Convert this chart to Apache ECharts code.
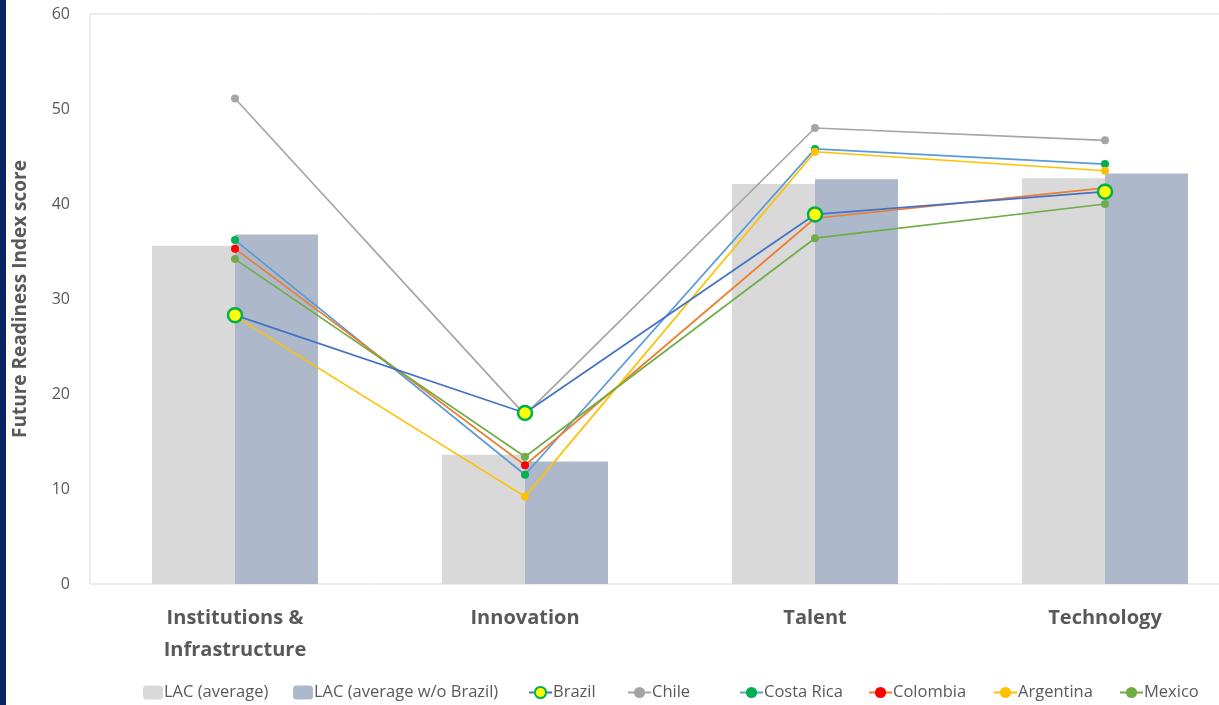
<!DOCTYPE html>
<html lang="en">
<head>
    <meta charset="UTF-8">
    <title>Future Readiness Index</title>
    <script src="https://cdn.jsdelivr.net/npm/echarts@6/dist/echarts.min.js"></script>
    <style>
        html, body { margin: 0; padding: 0; background: #fff; }
        #chart { width: 1219px; height: 705px; }
    </style>
</head>
<body>
<div id="chart"></div>
<script>
    // data
    var categories = ['Institutions &\nInfrastructure', 'Innovation', 'Talent', 'Technology'];
    var lacAvg = [35.6, 13.6, 42.1, 42.7];
    var lacNoBrazil = [36.8, 12.9, 42.6, 43.2];
    var brazil = [28.3, 18.0, 38.9, 41.3];
    var chile = [51.1, 17.8, 48.0, 46.7];
    var costaRica = [36.2, 11.5, 45.8, 44.2];
    var colombia = [35.3, 12.5, 38.5, 41.7];
    var argentina = [28.2, 9.2, 45.5, 43.5];
    var mexico = [34.2, 13.4, 36.4, 40.0];
    var yTicks = [0, 10, 20, 30, 40, 50, 60];
    var legendNames = ['LAC (average)', 'LAC (average w/o Brazil)', 'Brazil', 'Chile', 'Costa Rica', 'Colombia', 'Argentina', 'Mexico'];

    var font = '"Open Sans", "Noto Sans", sans-serif';

    function lineSeries(name, data, lineColor, dotColor) {
        return {
            name: name,
            type: 'line',
            data: data,
            symbol: 'circle',
            symbolSize: 8,
            lineStyle: {color: lineColor, width: 1.7},
            itemStyle: {color: dotColor, borderWidth: 0},
            z: 5
        };
    }

    // one legend per item so the spacing follows the original
    var legendLeft = [143, 293, 528, 627, 739, 868, 993, 1119];
    var legends = [];
    for (var i = 0; i < legendNames.length; i++) {
        var isBar = i < 2;
        legends.push({
            data: [legendNames[i]],
            left: legendLeft[i],
            top: 684,
            padding: 0,
            itemWidth: isBar ? 20 : 23,
            itemHeight: 14,
            textStyle: {color: '#595959', fontSize: 16.5, fontFamily: font, padding: [0, 0, 0, -4]}
        });
    }

    var chart = echarts.init(document.getElementById('chart'));
    var option = {
        animation: false,
        backgroundColor: '#fff',
        graphic: [{
            type: 'rect',
            left: 0, top: 0,
            shape: {width: 6, height: 705},
            style: {fill: '#0b2264'}
        }],
        grid: {
            left: 90, top: 14, width: 1160, height: 570,
            show: true, borderColor: '#d9d9d9', borderWidth: 1,
            outerBoundsMode: 'none',
            containLabel: false
        },
        legend: legends,
        xAxis: {
            type: 'category',
            data: categories,
            axisLine: {show: false},
            axisTick: {show: false},
            axisLabel: {
                color: '#595959', fontSize: 20, fontWeight: 'bold', fontFamily: font,
                lineHeight: 32, margin: 18
            }
        },
        yAxis: {
            type: 'value',
            min: yTicks[0],
            max: yTicks[yTicks.length - 1],
            interval: 10,
            name: 'Future Readiness Index score',
            nameLocation: 'middle',
            nameGap: 60,
            nameTextStyle: {color: '#595959', fontSize: 19, fontWeight: 'bold', fontFamily: font},
            axisLine: {show: false},
            axisTick: {show: false},
            splitLine: {show: false},
            axisLabel: {color: '#595959', fontSize: 16, fontFamily: font, margin: 20}
        },
        series: [
            {
                name: 'LAC (average)',
                type: 'bar',
                data: lacAvg,
                barWidth: 83,
                barGap: '0%',
                itemStyle: {color: '#d9d9d9'}
            },
            {
                name: 'LAC (average w/o Brazil)',
                type: 'bar',
                data: lacNoBrazil,
                barWidth: 83,
                barGap: '0%',
                itemStyle: {color: '#adb9ca'}
            },
            {
                name: 'Brazil',
                type: 'line',
                data: brazil,
                symbol: 'circle',
                symbolSize: 14,
                lineStyle: {color: '#4472c4', width: 1.7},
                itemStyle: {color: '#ffff00', borderColor: '#00b050', borderWidth: 2.5},
                z: 6
            },
            lineSeries('Chile', chile, '#a5a5a5', '#a5a5a5'),
            lineSeries('Costa Rica', costaRica, '#5b9bd5', '#00b050'),
            lineSeries('Colombia', colombia, '#ed7d31', '#ff0000'),
            lineSeries('Argentina', argentina, '#ffc000', '#ffc000'),
            lineSeries('Mexico', mexico, '#70ad47', '#70ad47')
        ]
    };
    chart.setOption(option);
</script>
</body>
</html>
